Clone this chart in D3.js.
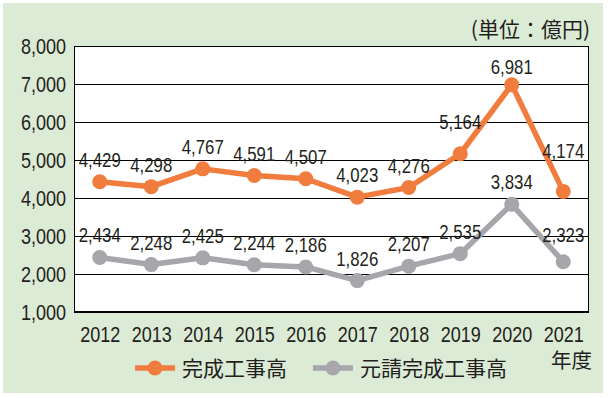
<!DOCTYPE html>
<html><head><meta charset="utf-8">
<script src="https://cdn.jsdelivr.net/npm/d3@7"></script>
<style>body{margin:0;background:#fff}svg{display:block}</style>
</head><body>
<script>
const years = ["2012","2013","2014","2015","2016","2017","2018","2019","2020","2021"];
const totalSales = [4429,4298,4767,4591,4507,4023,4276,5164,6981,4174];
const primeSales = [2434,2248,2425,2244,2186,1826,2207,2535,3834,2323];
const yTicks = [1000,2000,3000,4000,5000,6000,7000,8000];
const seriesNames = ["完成工事高","元請完成工事高"];
const unitLabel = "(単位：億円)";
const xTitle = "年度";

const W = 614, H = 398;
const m = {left:74, right:25, top:46, bottom:86};
const numFont = "'Liberation Sans',Arial,sans-serif";
const jpFont = "'Noto Sans CJK JP','Noto Sans',sans-serif";
const ink = "#231f20";
const colors = ["#f07d3d","#a6a6ab"];
const SX = 0.82;
function narrow(sel){
  sel.each(function(){
    const t = d3.select(this);
    const xv = +t.attr("x") || 0;
    t.attr("x", xv / SX).attr("transform", `scale(${SX},1)`);
  });
}

const svg = d3.select("body").append("svg").attr("width",W).attr("height",H);
svg.append("rect").attr("x",3).attr("y",3).attr("width",600).attr("height",390).attr("fill","#dcebd5");

const x = d3.scalePoint().domain(years).range([m.left, W-m.right]).padding(0.5);
const y = d3.scaleLinear().domain([1000,8000]).range([H-m.bottom, m.top]);

const g = svg.append("g");
g.append("rect").attr("x",m.left).attr("y",m.top).attr("width",W-m.right-m.left).attr("height",H-m.bottom-m.top)
  .attr("fill","#fff");

const grid = g.append("g").attr("transform",`translate(${m.left},0)`)
  .call(d3.axisLeft(y).tickValues(yTicks).tickSize(-(W-m.right-m.left)).tickFormat(""));
grid.select(".domain").remove();
grid.selectAll("line").attr("stroke","#000").attr("stroke-width",1);

g.append("rect").attr("x",m.left+0.5).attr("y",m.top+0.5).attr("width",W-m.right-m.left-1).attr("height",H-m.bottom-m.top-1)
  .attr("fill","none").attr("stroke","#000").attr("stroke-width",1);

const ya = g.append("g").attr("transform",`translate(${m.left},0)`)
  .call(d3.axisLeft(y).tickValues(yTicks).tickSize(0).tickPadding(8).tickFormat(d3.format(",")));
ya.select(".domain").remove();
ya.selectAll("text").attr("font-family",numFont).attr("font-size",22).attr("fill",ink).attr("dy","0.36em").call(narrow);

const xa = g.append("g").attr("transform",`translate(0,${H-m.bottom})`)
  .call(d3.axisBottom(x).tickSize(0).tickPadding(14));
xa.select(".domain").remove();
xa.selectAll("text").attr("font-family",numFont).attr("font-size",22).attr("fill",ink).attr("dy","0.71em").call(narrow);

const series = [totalSales, primeSales];
const line = d3.line().x((d,i)=>x(years[i])).y(d=>y(d));
series.forEach((vals,si)=>{
  g.append("path").datum(vals).attr("d",line).attr("fill","none")
   .attr("stroke",colors[si]).attr("stroke-width",5.5).attr("stroke-linejoin","round");
  g.selectAll(null).data(vals).enter().append("circle")
   .attr("cx",(d,i)=>x(years[i])).attr("cy",d=>y(d)).attr("r",7.5).attr("fill",colors[si]);
});
const extraLift = {"0-7":10, "0-8":-4, "0-9":18, "1-9":5};
series.forEach((vals,si)=>{
  g.selectAll(null).data(vals).enter().append("text")
   .attr("x",(d,i)=>x(years[i]))
   .attr("y",(d,i)=>y(d) - 15 - (extraLift[si+"-"+i]||0))
   .attr("text-anchor","middle").attr("font-family",numFont).attr("font-size",20.5)
   .attr("fill",ink).text(d=>d3.format(",")(d)).call(narrow);
});

svg.append("text").attr("x",W-m.right+1).attr("y",37).attr("text-anchor","end")
  .attr("font-family",jpFont).attr("font-size",21).attr("fill",ink).text(unitLabel);

svg.append("text").attr("x",W-m.right+3).attr("y",368).attr("text-anchor","end")
  .attr("font-family",jpFont).attr("font-size",20.5).attr("fill",ink).text(xTitle);

const legX = [135, 313];
seriesNames.forEach((n,i)=>{
  const lg = svg.append("g").attr("transform",`translate(${legX[i]},368)`);
  lg.append("line").attr("x1",0).attr("x2",40).attr("stroke",colors[i]).attr("stroke-width",5.5);
  lg.append("circle").attr("cx",20).attr("r",7.5).attr("fill",colors[i]);
  lg.append("text").attr("x",47).attr("y",0).attr("dy","0.36em")
    .attr("font-family",jpFont).attr("font-size",21).attr("fill",ink).text(n);
});
</script>
</body></html>
